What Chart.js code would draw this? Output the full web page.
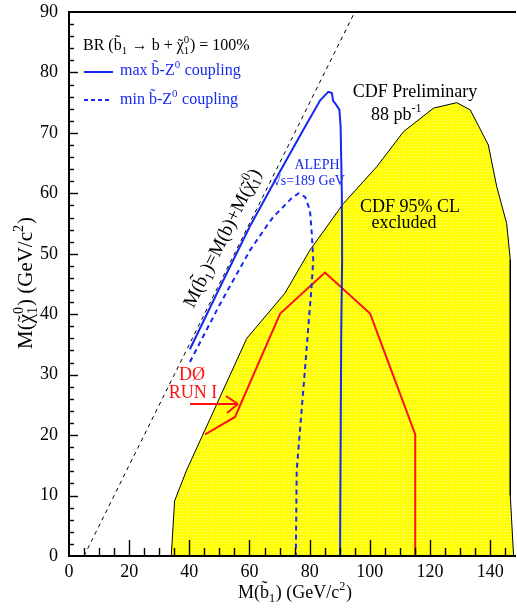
<!DOCTYPE html>
<html><head><meta charset="utf-8">
<script src="https://cdn.jsdelivr.net/npm/chart.js@4.4.0/dist/chart.umd.min.js"></script>
<style>html,body{margin:0;padding:0;background:#fff;overflow:hidden}canvas{display:block}</style>
</head><body>
<canvas id="c" width="517" height="609" style="width:517px;height:609px"></canvas>
<script>
// ---- data ----
const xTickVals = [0, 20, 40, 60, 80, 100, 120, 140];
const yTickVals = [0, 10, 20, 30, 40, 50, 60, 70, 80, 90];

// CDF 95% CL excluded region (upper boundary)
const cdfX = [34, 35.1, 39.1, 59.1, 71.8, 80.1, 91.2, 102.3, 111.2, 121.2, 128.9, 133.4, 139.4, 142.2, 145.5, 146.7, 146.7, 147.8];
const cdfY = [0, 9.1, 14.2, 36.0, 43.5, 50.6, 58.3, 64.4, 70.2, 74.1, 75.0, 73.8, 68.0, 61.1, 55.0, 49.0, 10.0, 0];

// D0 Run I
const d0X = [45.2, 55.2, 70.2, 85.1, 100.1, 115.1, 115.1];
const d0Y = [20.1, 23.0, 40.1, 46.9, 40.1, 20.1, 0];

// ALEPH max b-Z0 coupling
const alephMaxX = [40.2, 50, 60.2, 70, 78, 83.5, 86.2, 87.4, 87.8, 88.5, 89.9, 90.3, 90.7, 90.8, 90.5, 90.1];
const alephMaxY = [34.2, 44.3, 54.6, 63.5, 70.6, 75.4, 76.8, 76.6, 75.3, 74.9, 73.8, 71.0, 60, 49, 37, 0];

// ALEPH min b-Z0 coupling
const alephMinX = [40.2, 50, 60.2, 66, 67.9, 71.3, 74, 76.3, 78.5, 80.1, 80.7, 81.2, 80.7, 78.3, 75.7, 75.4];
const alephMinY = [32.1, 41.5, 50.6, 54.8, 56.1, 57.8, 59.2, 60, 59.4, 57.2, 53.4, 49, 45, 30, 14.2, 0];

// kinematic limit M(b1) = M(b) + M(chi)
const kinX = [5, 95];
const kinY = [0, 90];

const pts = (xs, ys) => xs.map((x, i) => ({x, y: ys[i]}));

const FAM = '"Liberation Serif", "Times New Roman", serif';
const BLUE = '#1428f0';
const RED = '#ff1010';

function yellowPattern(ctx) {
  const c = document.createElement('canvas'); c.width = 3; c.height = 3;
  const g = c.getContext('2d');
  g.fillStyle = '#ffff00'; g.fillRect(0, 0, 3, 3);
  g.fillStyle = '#ffff90'; g.fillRect(0, 0, 1, 1);
  return ctx.createPattern(c, 'repeat');
}

function measureParts(ctx, parts, size) {
  let x = 0; const segs = [];
  for (const p of parts) {
    if (typeof p === 'string') {
      ctx.font = size + 'px ' + FAM; const w = ctx.measureText(p).width;
      segs.push({k: 'n', t: p, x, w}); x += w;
    } else if (p.tl !== undefined) {
      ctx.font = size + 'px ' + FAM; const w = ctx.measureText(p.t).width;
      segs.push({k: 't', t: p.t, tl: p.tl, x, w}); x += w;
    } else {
      const s = size * 0.68; ctx.font = s + 'px ' + FAM;
      const w = Math.max(p.sub ? ctx.measureText(p.sub).width : 0, p.sup ? ctx.measureText(p.sup).width : 0);
      segs.push({k: 's', sub: p.sub, sup: p.sup, x, w, s}); x += w + size * 0.04;
    }
  }
  return {segs, width: x};
}
function drawParts(ctx, parts, x, y, size, color, align) {
  const m = measureParts(ctx, parts, size);
  const x0 = align === 'center' ? x - m.width / 2 : align === 'right' ? x - m.width : x;
  ctx.fillStyle = color; ctx.textBaseline = 'alphabetic';
  for (const s of m.segs) {
    ctx.textAlign = 'left';
    if (s.k === 'n') { ctx.font = size + 'px ' + FAM; ctx.fillText(s.t, x0 + s.x, y); }
    else if (s.k === 't') {
      ctx.font = size + 'px ' + FAM; ctx.fillText(s.t, x0 + s.x, y);
      ctx.textAlign = 'center'; ctx.fillText('\u02DC', x0 + s.x + s.w / 2, y - s.tl * size);
    } else {
      ctx.font = s.s + 'px ' + FAM;
      if (s.sub) ctx.fillText(s.sub, x0 + s.x, y + size * 0.22);
      if (s.sup) ctx.fillText(s.sup, x0 + s.x, y - size * 0.42);
    }
  }
}
function line(ctx, x1, y1, x2, y2) { ctx.beginPath(); ctx.moveTo(x1, y1); ctx.lineTo(x2, y2); ctx.stroke(); }

const bT = {t: 'b', tl: 0.24};
const chiT = {t: '\u03C7', tl: 0.02};

const framePlugin = {
  id: 'frame',
  afterDatasetsDraw(chart) {
    const {ctx, chartArea: a, scales: {x, y}} = chart;
    ctx.save();
    ctx.strokeStyle = '#000'; ctx.lineWidth = 1.4;
    for (let v = 5; v < x.max; v += 5) {
      const px = Math.round(x.getPixelForValue(v)) + 0.5;
      line(ctx, px, a.bottom, px, a.bottom - (v % 20 === 0 ? 16 : 8));
    }
    for (let v = 2; v <= 88; v += 2) {
      const py = Math.round(y.getPixelForValue(v)) + 0.5;
      line(ctx, a.left, py, a.left + (v % 10 === 0 ? 9 : 5), py);
    }
    ctx.lineWidth = 2;
    line(ctx, a.left, a.top, a.left, a.bottom);
    line(ctx, a.left - 1, a.bottom, a.right, a.bottom);
    line(ctx, a.left - 1, a.top, a.right, a.top);
    ctx.restore();
  },
  afterDraw(chart) {
    const ctx = chart.ctx;
    ctx.save();
    // header and legend
    drawParts(ctx, ['BR (', bT, {sub: '1'}, ' \u2192 b + ', chiT, {sub: '1', sup: '0'}, ') = 100%'], 83, 50, 16, '#000', 'left');
    ctx.strokeStyle = BLUE; ctx.lineWidth = 2;
    line(ctx, 84, 72, 113, 72);
    ctx.setLineDash([4, 3]); line(ctx, 84, 100, 111, 100); ctx.setLineDash([]);
    drawParts(ctx, ['max ', bT, '-Z', {sup: '0'}, ' coupling'], 120, 75, 16, BLUE, 'left');
    drawParts(ctx, ['min ', bT, '-Z', {sup: '0'}, ' coupling'], 120, 104, 16, BLUE, 'left');
    // CDF labels
    drawParts(ctx, ['CDF Preliminary'], 415, 97, 18, '#000', 'center');
    drawParts(ctx, ['88 pb', {sup: '-1'}], 371, 120, 18, '#000', 'left');
    drawParts(ctx, ['CDF 95% CL'], 410, 212, 18, '#000', 'center');
    drawParts(ctx, ['excluded'], 404, 228, 18, '#000', 'center');
    // ALEPH
    drawParts(ctx, ['ALEPH'], 317, 169, 14, BLUE, 'center');
    drawParts(ctx, ['\u221As=189 GeV'], 309, 185, 14, BLUE, 'center');
    // D0
    drawParts(ctx, ['D\u00D8'], 192, 380, 18, RED, 'center');
    drawParts(ctx, ['RUN I'], 193, 398, 18, RED, 'center');
    ctx.strokeStyle = RED; ctx.lineWidth = 2;
    line(ctx, 190, 404, 238, 404);
    line(ctx, 226, 396, 238, 404);
    line(ctx, 227, 413, 238, 404);
    // diagonal label
    ctx.save();
    ctx.translate(222, 238); ctx.rotate(-63.5 * Math.PI / 180);
    drawParts(ctx, ['M(', bT, {sub: '1'}, ')=M(b)+M(', chiT, {sub: '1', sup: '0'}, ')'], 0, 6, 19, '#000', 'center');
    ctx.restore();
    // axis titles
    drawParts(ctx, ['M(', bT, {sub: '1'}, ') (GeV/c', {sup: '2'}, ')'], 295, 598, 18, '#000', 'center');
    ctx.save();
    ctx.translate(32, 283); ctx.rotate(-Math.PI / 2);
    drawParts(ctx, ['M(', chiT, {sub: '1', sup: '0'}, ') (GeV/c', {sup: '2'}, ')'], 0, 0, 21, '#000', 'center');
    ctx.restore();
    ctx.restore();
  }
};

const canvas = document.getElementById('c');
const ctx0 = canvas.getContext('2d');

new Chart(canvas, {
  type: 'scatter',
  data: {
    datasets: [
      {data: pts(kinX, kinY), showLine: true, borderColor: '#000', borderWidth: 1, borderDash: [4, 4], pointRadius: 0, fill: false, order: 1},
      {data: pts(alephMaxX, alephMaxY), showLine: true, borderColor: BLUE, borderWidth: 2, pointRadius: 0, fill: false, order: 2},
      {data: pts(alephMinX, alephMinY), showLine: true, borderColor: BLUE, borderWidth: 2, borderDash: [5, 4], pointRadius: 0, fill: false, order: 3},
      {data: pts(d0X, d0Y), showLine: true, borderColor: RED, borderWidth: 2, pointRadius: 0, fill: false, order: 4},
      {data: pts(cdfX, cdfY), showLine: true, borderColor: '#000', borderWidth: 1, backgroundColor: yellowPattern(ctx0), pointRadius: 0, fill: 'origin', order: 10}
    ]
  },
  options: {
    responsive: false, animation: false, devicePixelRatio: 1,
    layout: {padding: {top: 12, right: 1, left: 0, bottom: 0}},
    plugins: {legend: {display: false}, tooltip: {enabled: false}},
    elements: {line: {tension: 0}},
    scales: {
      x: {
        type: 'linear', min: 0, max: 148.6,
        grid: {display: false, drawTicks: false}, border: {display: false},
        afterBuildTicks: s => { s.ticks = xTickVals.map(v => ({value: v})); },
        afterFit: s => { s.height = 53; s.paddingLeft = 0; s.paddingRight = 0; },
        ticks: {color: '#000', font: {family: FAM, size: 18}, padding: 5, maxRotation: 0, autoSkip: false}
      },
      y: {
        type: 'linear', min: 0, max: 90,
        grid: {display: false, drawTicks: false}, border: {display: false},
        afterBuildTicks: s => { s.ticks = yTickVals.map(v => ({value: v})); },
        afterFit: s => { s.width = 69; s.paddingTop = 0; s.paddingBottom = 0; },
        ticks: {color: '#000', font: {family: FAM, size: 18}, padding: 11, autoSkip: false}
      }
    }
  },
  plugins: [framePlugin]
});
</script></body></html>
